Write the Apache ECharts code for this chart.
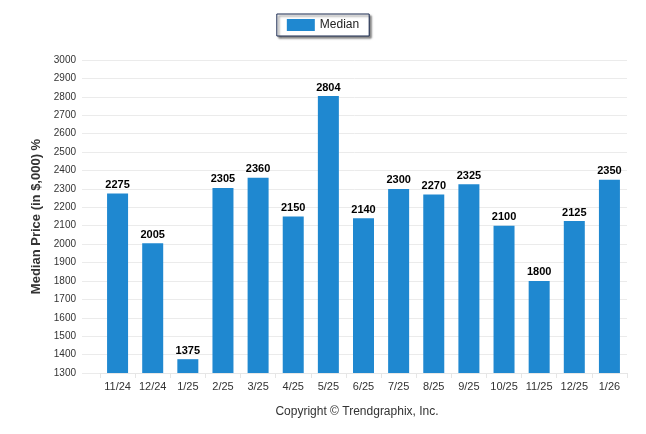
<!DOCTYPE html>
<html><head><meta charset="utf-8">
<script src="https://cdn.jsdelivr.net/npm/echarts@6/dist/echarts.min.js"></script>
<style>html,body{margin:0;padding:0;background:#fff}#c{width:646px;height:434px}</style>
</head><body><div id="c"></div>
<script>
const categories = ['11/24','12/24','1/25','2/25','3/25','4/25','5/25','6/25','7/25','8/25','9/25','10/25','11/25','12/25','1/26'];
const medianValues = [2275,2005,1375,2305,2360,2150,2804,2140,2300,2270,2325,2100,1800,2125,2350];
const seriesName = 'Median';
const yAxisTitle = 'Median Price (in $,000) %';
const footerText = 'Copyright \u00A9 Trendgraphix, Inc.';

const chart = echarts.init(document.getElementById('c'));
const font = 'Liberation Sans, Arial, sans-serif';
chart.setOption({
  animation: false,
  legend: {
    data: [seriesName], top: 14, left: 'center',
    itemWidth: 28, itemHeight: 12, itemGap: 6,
    padding: [5, 10, 5, 10],
    borderColor: '#1a2a50', borderWidth: 1,
    shadowColor: 'rgba(0,0,0,0.5)', shadowBlur: 2, shadowOffsetX: 2, shadowOffsetY: 2,
    backgroundColor: '#fff',
    textStyle: { fontFamily: font, fontSize: 12, color: '#222' },
    icon: 'rect'
  },
  title: {
    text: footerText, left: 352, top: 401, textAlign: 'center',
    textStyle: { fontFamily: font, fontSize: 12, fontWeight: 'normal', color: '#333' }
  },
  grid: [
    { left: 82, right: 19, top: 60, bottom: 61 },
    { left: 100, right: 19, top: 60, bottom: 61 }
  ],
  xAxis: [
    { gridIndex: 0, type: 'category', data: categories, show: false },
    { gridIndex: 1, type: 'category', data: categories,
      axisLine: { lineStyle: { color: '#e6e6e6' } },
      axisTick: { show: true, lineStyle: { color: '#e6e6e6' } },
      axisLabel: { interval: 0, fontFamily: font, fontSize: 11, color: '#333', margin: 8 } }
  ],
  yAxis: [
    { gridIndex: 0, type: 'value', min: 1300, max: 3000, interval: 100,
      name: yAxisTitle, nameLocation: 'middle', nameGap: 33,
      nameTextStyle: { fontFamily: font, fontSize: 13, fontWeight: 'bold', color: '#333' },
      axisLine: { show: false }, axisTick: { show: false },
      axisLabel: { fontFamily: font, fontSize: 10, color: '#333', margin: 6, formatter: v => String(v) },
      splitLine: { lineStyle: { color: '#ebebeb' } } },
    { gridIndex: 1, type: 'value', min: 1300, max: 3000, interval: 100, show: false }
  ],
  series: [{
    name: seriesName, type: 'bar', xAxisIndex: 1, yAxisIndex: 1,
    data: medianValues, barWidth: 21,
    itemStyle: { color: '#1f88d0' },
    label: { show: true, position: 'top', distance: 3,
      fontFamily: font, fontSize: 11, fontWeight: 'bold', color: '#000' }
  }]
});
</script></body></html>
